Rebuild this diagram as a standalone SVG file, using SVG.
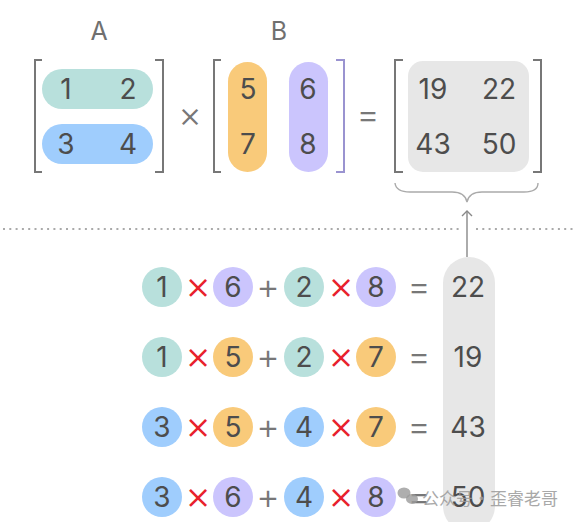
<svg xmlns="http://www.w3.org/2000/svg" width="575" height="522" viewBox="0 0 575 522">
<style>
.num{font-family:Inter,"Noto Sans","Liberation Sans",sans-serif;font-size:28px;fill:#4d4d4d;text-anchor:middle}
.lbl{font-family:Inter,"Noto Sans","Liberation Sans",sans-serif;font-size:25px;fill:#707070;text-anchor:middle}
.op{font-family:Inter,"Noto Sans","Liberation Sans",sans-serif;font-size:36px;font-weight:300;fill:#777;text-anchor:middle}
.mul{font-family:Inter,"Noto Sans","Liberation Sans",sans-serif;font-size:40px;font-weight:300;fill:#e8222c;text-anchor:middle}
.br{fill:none;stroke:#777;stroke-width:2}
.teal{fill:#b8e0dc}.blue{fill:#9fcdfd}.orange{fill:#f9ca7a}.purple{fill:#cbc5fd}.grey{fill:#e7e7e7}
.wm{font-family:"Noto Sans CJK SC","Noto Sans",sans-serif;font-size:17px;fill:#9a9a9a;opacity:0.85}
</style>

<!-- Matrix A -->
<g id="matrixA">
<text class="lbl" x="99" y="40">A</text>
<path class="br" d="M42,60 H35 V172 H42"/>
<path class="br" d="M155,60 H163 V172 H155"/>
<rect class="teal" x="42" y="69" width="111" height="40" rx="20"/>
<rect class="blue" x="42" y="124" width="111" height="40" rx="20"/>
<text class="num" x="66" y="99">1</text>
<text class="num" x="128" y="99">2</text>
<text class="num" x="66" y="154">3</text>
<text class="num" x="128" y="154">4</text>
</g>
<text class="op" x="190" y="127">×</text>

<!-- Matrix B -->
<g id="matrixB">
<text class="lbl" x="279" y="40">B</text>
<path class="br" d="M221,60 H214 V172 H221"/>
<path class="br" style="stroke:#9a93d0" d="M336,60 H344 V172 H336"/>
<rect class="orange" x="228" y="62" width="39" height="110" rx="19.5"/>
<rect class="purple" x="289" y="62" width="39" height="110" rx="19.5"/>
<text class="num" x="248" y="99">5</text>
<text class="num" x="248" y="154">7</text>
<text class="num" x="308" y="99">6</text>
<text class="num" x="308" y="154">8</text>
</g>
<text class="op" x="368" y="127">=</text>

<!-- Result matrix -->
<g id="matrixC">
<path class="br" d="M403,60 H395 V172 H403"/>
<path class="br" d="M533,60 H541 V172 H533"/>
<rect class="grey" x="408" y="61" width="121" height="111" rx="15"/>
<text class="num" x="433" y="99">19</text>
<text class="num" x="499" y="99">22</text>
<text class="num" x="433" y="154">43</text>
<text class="num" x="499" y="154">50</text>
</g>

<!-- dotted separator -->
<line x1="3" y1="229" x2="460" y2="229" stroke="#aaa" stroke-width="2" stroke-dasharray="2 4.3"/>
<line x1="476" y1="229" x2="575" y2="229" stroke="#aaa" stroke-width="2" stroke-dasharray="2 4.3"/>

<!-- result column -->
<g id="resultColumn">
<rect class="grey" x="443" y="257" width="52" height="275" rx="26"/>
</g>

<!-- connectors -->
<g id="connectors">
<path d="M395,183 Q396,192 410,192 H452 Q465,192 467,202 Q469,192 482,192 H524 Q538,192 538,183" fill="none" stroke="#aaa" stroke-width="1.4"/>
<line x1="467" y1="257" x2="467" y2="211" stroke="#888" stroke-width="1.4"/>
<path d="M462,216 L467,211 L472,216" fill="none" stroke="#888" stroke-width="1.4"/>
</g>

<!-- Row 1 -->
<g id="row1">
<circle class="teal" cx="162" cy="287" r="20"/><text class="num" x="162" y="297">1</text>
<text class="mul" x="198" y="299">×</text>
<circle class="purple" cx="233" cy="287" r="20"/><text class="num" x="233" y="297">6</text>
<text class="op" x="268" y="299">+</text>
<circle class="teal" cx="304" cy="287" r="20"/><text class="num" x="304" y="297">2</text>
<text class="mul" x="341" y="299">×</text>
<circle class="purple" cx="376" cy="287" r="20"/><text class="num" x="376" y="297">8</text>
<text class="op" x="419" y="299">=</text>
<text class="num" x="468" y="297">22</text>
</g>

<!-- Row 2 -->
<g id="row2">
<circle class="teal" cx="162" cy="357" r="20"/><text class="num" x="162" y="367">1</text>
<text class="mul" x="198" y="369">×</text>
<circle class="orange" cx="233" cy="357" r="20"/><text class="num" x="233" y="367">5</text>
<text class="op" x="268" y="369">+</text>
<circle class="teal" cx="304" cy="357" r="20"/><text class="num" x="304" y="367">2</text>
<text class="mul" x="341" y="369">×</text>
<circle class="orange" cx="376" cy="357" r="20"/><text class="num" x="376" y="367">7</text>
<text class="op" x="419" y="369">=</text>
<text class="num" x="468" y="367">19</text>
</g>

<!-- Row 3 -->
<g id="row3">
<circle class="blue" cx="162" cy="427" r="20"/><text class="num" x="162" y="437">3</text>
<text class="mul" x="198" y="439">×</text>
<circle class="orange" cx="233" cy="427" r="20"/><text class="num" x="233" y="437">5</text>
<text class="op" x="268" y="439">+</text>
<circle class="blue" cx="304" cy="427" r="20"/><text class="num" x="304" y="437">4</text>
<text class="mul" x="341" y="439">×</text>
<circle class="orange" cx="376" cy="427" r="20"/><text class="num" x="376" y="437">7</text>
<text class="op" x="419" y="439">=</text>
<text class="num" x="468" y="437">43</text>
</g>

<!-- Row 4 -->
<g id="row4">
<circle class="blue" cx="162" cy="497" r="20"/><text class="num" x="162" y="507">3</text>
<text class="mul" x="198" y="509">×</text>
<circle class="purple" cx="233" cy="497" r="20"/><text class="num" x="233" y="507">6</text>
<text class="op" x="268" y="509">+</text>
<circle class="blue" cx="304" cy="497" r="20"/><text class="num" x="304" y="507">4</text>
<text class="mul" x="341" y="509">×</text>
<circle class="purple" cx="376" cy="497" r="20"/><text class="num" x="376" y="507">8</text>
<text class="op" x="419" y="509">=</text>
<text class="num" x="468" y="507">50</text>
</g>

<!-- watermark -->
<g id="watermark">
<ellipse cx="404" cy="493" rx="6.5" ry="5.5" fill="#9a9a9a" opacity="0.8"/>
<ellipse cx="412" cy="499" rx="6" ry="5" fill="#9a9a9a" opacity="0.8"/>
<text class="wm" x="422" y="505">公众号·歪睿老哥</text>
</g>
</svg>
